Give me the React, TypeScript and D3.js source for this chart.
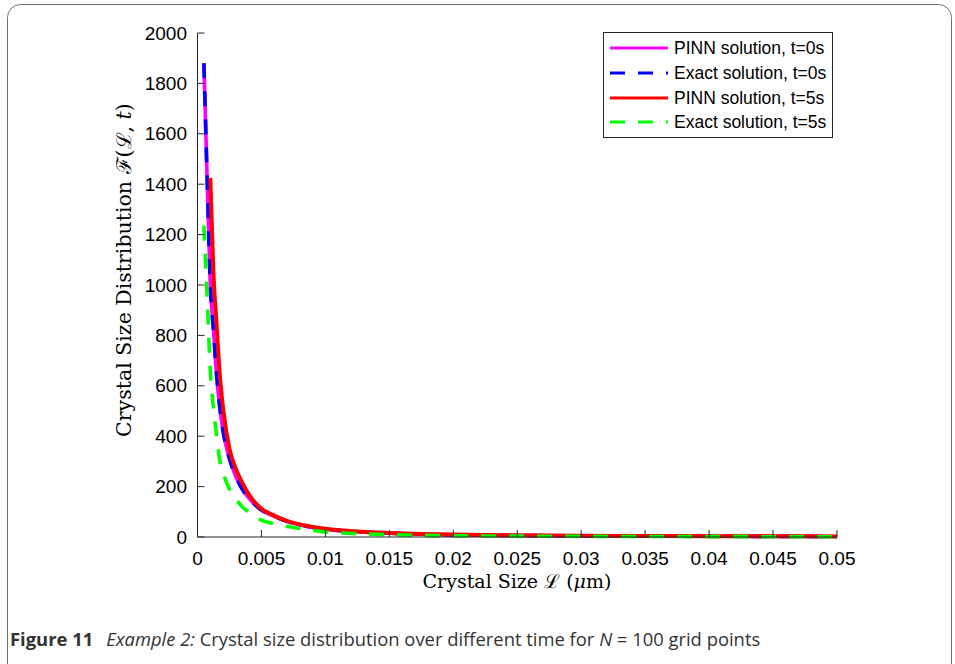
import React from "react";
import * as d3 from "d3";

// Crystal size grid (µm) and distribution values read for each series
const sizeT0 = [0.0005, 0.00075, 0.001, 0.00125, 0.0015, 0.00175, 0.002, 0.0025, 0.003, 0.0035, 0.004, 0.005, 0.006, 0.007, 0.008, 0.009, 0.01, 0.0125, 0.015, 0.0175, 0.02, 0.025, 0.03, 0.035, 0.04, 0.045, 0.05];
const pinnT0 = [1880, 1430, 1000, 820, 640, 510, 420, 310, 240, 190, 155, 107, 82, 62, 48, 38, 31, 21, 15, 11, 8.5, 6, 4.5, 3.5, 3, 2.5, 2];
const exactT0 = [1880, 1430, 1000, 820, 640, 510, 420, 310, 240, 190, 155, 107, 82, 62, 48, 38, 31, 21, 15, 11, 8.5, 6, 4.5, 3.5, 3, 2.5, 2];

const sizePinnT5 = [0.001, 0.00125, 0.0015, 0.00175, 0.002, 0.0025, 0.003, 0.0035, 0.004, 0.005, 0.006, 0.007, 0.008, 0.009, 0.01, 0.0125, 0.015, 0.0175, 0.02, 0.025, 0.03, 0.035, 0.04, 0.045, 0.05];
const pinnT5 = [1425, 1040, 840, 640, 510, 350, 270, 215, 170, 112, 85, 64, 50, 40, 33, 22, 16, 12, 9.5, 6.5, 5, 4, 3.2, 2.7, 2.3];

const sizeExactT5 = [0.0005, 0.00075, 0.001, 0.00125, 0.0015, 0.00175, 0.002, 0.0025, 0.003, 0.0035, 0.004, 0.005, 0.006, 0.007, 0.008, 0.009, 0.01, 0.0125, 0.015, 0.02, 0.025, 0.03, 0.035, 0.04, 0.045, 0.05];
const exactT5 = [1235, 960, 660, 510, 400, 300, 255, 190, 150, 120, 98, 67, 52, 42, 34, 26, 20, 13, 9, 5, 3.5, 2.5, 2, 1.5, 1.2, 1];

const xTicks = [0, 0.005, 0.01, 0.015, 0.02, 0.025, 0.03, 0.035, 0.04, 0.045, 0.05];
const xTickLabels = ["0", "0.005", "0.01", "0.015", "0.02", "0.025", "0.03", "0.035", "0.04", "0.045", "0.05"];
const yTicks = [0, 200, 400, 600, 800, 1000, 1200, 1400, 1600, 1800, 2000];

const legendLabels = ["PINN solution, t=0s", "Exact solution, t=0s", "PINN solution, t=5s", "Exact solution, t=5s"];

type Series = { xs: number[]; ys: number[]; color: string; width: number; dash?: string };

const series: Series[] = [
  { xs: sizeT0, ys: pinnT0, color: "#ff00ff", width: 3.6 },
  { xs: sizeT0, ys: exactT0, color: "#0000ff", width: 3.6, dash: "15 13" },
  { xs: sizePinnT5, ys: pinnT5, color: "#ff0000", width: 4 },
  { xs: sizeExactT5, ys: exactT5, color: "#00ff00", width: 3.6, dash: "15 13" },
];

const W = 955;
const H = 664;
const plot = { left: 197.5, right: 837, top: 33, bottom: 537 };

export default function App() {
  const x = d3.scaleLinear().domain([0, 0.05]).range([plot.left, plot.right]);
  const y = d3.scaleLinear().domain([0, 2000]).range([plot.bottom, plot.top]);

  const line = (s: Series) =>
    d3
      .line<number>()
      .x((_, i) => x(s.xs[i]))
      .y((v) => y(v))
      .curve(d3.curveMonotoneX)(s.ys) || "";

  const axisColor = "#262626";
  const tickFont = "'Liberation Sans', Arial, sans-serif";
  const mathFont = "'DejaVu Serif', serif";
  const captionFont = "'Open Sans', 'Noto Sans', sans-serif";

  const legend = { x: 603.5, y: 32.5, w: 229, h: 105 };
  const legendRows = [48, 73, 98, 122];

  return (
    <svg
      width={W}
      height={H}
      style={{ position: "absolute", left: 0, top: 0, display: "block", background: "#fff" }}
    >
      <rect x={7.5} y={4.5} width={944} height={680} rx={13} fill="#fff" stroke="#6e6e6e" strokeWidth={1} />

      {/* data curves */}
      <g fill="none" strokeLinejoin="round">
        {series.map((s, i) => (
          <path key={i} d={line(s)} stroke={s.color} strokeWidth={s.width} strokeDasharray={s.dash} />
        ))}
      </g>

      {/* axes */}
      <g stroke={axisColor} strokeWidth={1} fill="none">
        <line x1={plot.left} x2={plot.left} y1={plot.top} y2={plot.bottom} />
        <line x1={plot.left} x2={plot.right} y1={plot.bottom} y2={plot.bottom} />
        {yTicks.map((t) => (
          <line key={"yt" + t} x1={plot.left} x2={plot.left + 7} y1={y(t)} y2={y(t)} />
        ))}
        {xTicks.map((t) => (
          <line key={"xt" + t} x1={x(t)} x2={x(t)} y1={plot.bottom} y2={plot.bottom - 7} />
        ))}
      </g>

      <g fontFamily={tickFont} fontSize={19} fill="#000">
        {yTicks.map((t) => (
          <text key={"yl" + t} x={187} y={y(t)} dy="0.35em" textAnchor="end">
            {t}
          </text>
        ))}
        {xTicks.map((t, i) => (
          <text key={"xl" + t} x={x(t)} y={565} textAnchor="middle">
            {xTickLabels[i]}
          </text>
        ))}
      </g>

      {/* axis titles */}
      <text x={517} y={588} textAnchor="middle" fontFamily={mathFont} fontSize={19} fill="#000">
        Crystal Size ℒ (<tspan fontStyle="italic">μ</tspan>m)
      </text>
      <text
        transform="translate(131,270) rotate(-90)"
        textAnchor="middle"
        fontFamily={mathFont}
        fontSize={20.5}
        fill="#000"
      >
        Crystal Size Distribution ℱ(ℒ, <tspan fontStyle="italic">t</tspan>)
      </text>

      {/* legend */}
      <rect x={legend.x} y={legend.y} width={legend.w} height={legend.h} fill="#fff" stroke={axisColor} strokeWidth={1} />
      {series.map((s, i) => (
        <g key={"lg" + i}>
          <line
            x1={610}
            x2={668}
            y1={legendRows[i]}
            y2={legendRows[i]}
            stroke={s.color}
            strokeWidth={3}
            strokeDasharray={s.dash}
          />
          <text x={674} y={legendRows[i]} dy="0.35em" fontFamily={tickFont} fontSize={17.5} fill="#000">
            {legendLabels[i]}
          </text>
        </g>
      ))}

      {/* caption */}
      <text x={10} y={646} fontFamily={captionFont} fontSize={18.4} fill="#333">
        <tspan fontWeight="bold">Figure 11</tspan>
        <tspan dx={13} fontStyle="italic">Example 2:</tspan>
        <tspan> Crystal size distribution over different time for </tspan>
        <tspan fontStyle="italic">N</tspan>
        <tspan> = 100 grid points</tspan>
      </text>
    </svg>
  );
}
